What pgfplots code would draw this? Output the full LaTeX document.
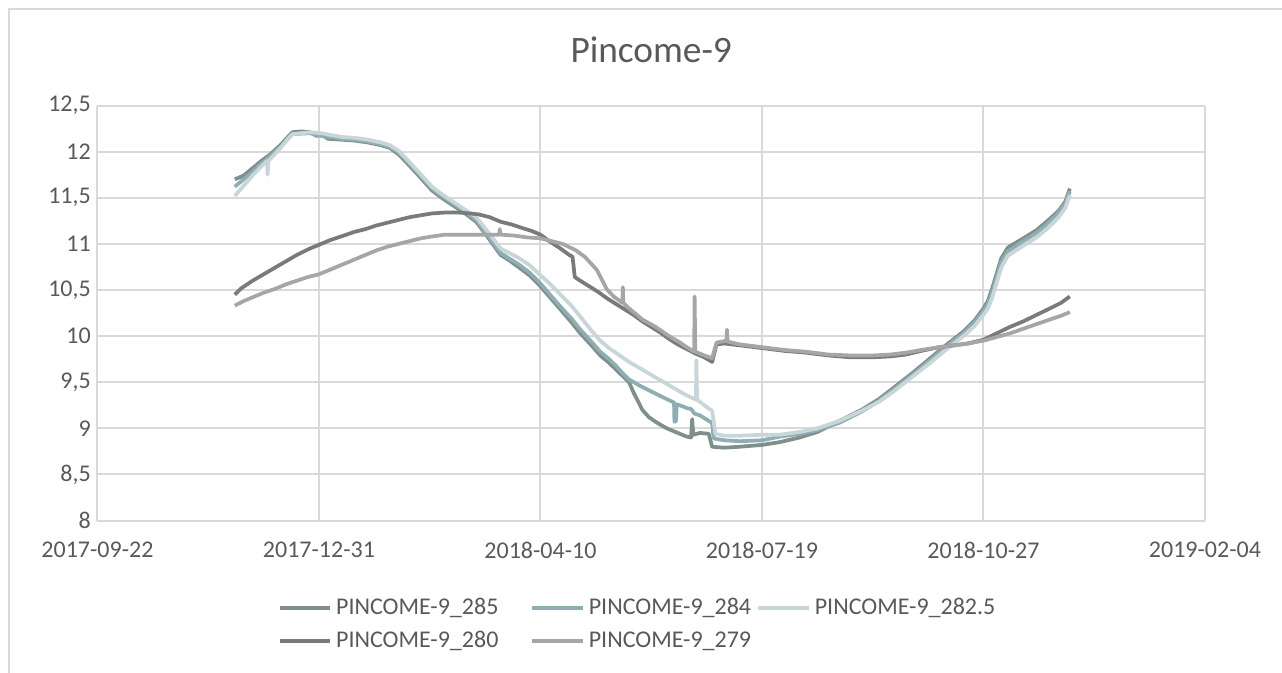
\documentclass[border=0pt]{standalone}
\usepackage{pgfplots}
\pgfplotsset{compat=1.18}
\usepackage{fontspec}
\setmainfont{Carlito}

\definecolor{txt}{RGB}{89,89,89}
\definecolor{gridc}{RGB}{217,217,217}
\definecolor{cA}{RGB}{127,143,139}   % 285
\definecolor{cB}{RGB}{143,174,180}   % 284
\definecolor{cC}{RGB}{200,213,217}   % 282.5
\definecolor{cD}{RGB}{122,122,124}   % 280
\definecolor{cE}{RGB}{166,166,166}   % 279

% x = days since 2017-09-22
\pgfplotstableread{
d v
62 11.70
66 11.74
70 11.82
74 11.90
78 11.97
83 12.08
86 12.16
88 12.21
92 12.22
96 12.21
99 12.17
101 12.19
104 12.14
110 12.13
116 12.12
122 12.10
128 12.07
132 12.04
136 11.97
140 11.87
145 11.74
151 11.58
156 11.49
161 11.41
166 11.33
171 11.24
176 11.08
182 10.88
186 10.82
190 10.75
195 10.66
200 10.54
205 10.40
209 10.29
214 10.15
218 10.03
223 9.90
227 9.79
231 9.71
234 9.64
237 9.57
240 9.50
242 9.39
246 9.20
249 9.12
252 9.07
257 9.00
262 8.95
266 8.91
268 8.90
268.5 9.10
269 8.93
272 8.95
276 8.94
277.5 8.80
283 8.79
290 8.80
300 8.82
308 8.85
317 8.90
325 8.96
335 9.08
345 9.20
353 9.32
360 9.45
368 9.60
376 9.76
383 9.90
391 10.05
396 10.17
400 10.30
402 10.38
404 10.52
406 10.68
408 10.84
411 10.96
418 11.06
424 11.15
429 11.25
434 11.36
437 11.46
439 11.60
}\tA

\pgfplotstableread{
d v
62 11.62
66 11.70
70 11.78
74 11.87
78 11.95
83 12.06
86 12.14
88 12.19
96 12.20
101 12.17
110 12.14
116 12.13
122 12.11
128 12.08
132 12.05
136 11.99
140 11.89
145 11.76
151 11.60
156 11.51
161 11.43
166 11.35
171 11.26
176 11.10
182 10.90
186 10.84
190 10.78
195 10.69
200 10.57
205 10.43
209 10.32
214 10.19
218 10.07
223 9.94
227 9.83
231 9.75
234 9.68
237 9.60
240 9.53
245 9.46
250 9.40
255 9.34
258.5 9.30
260.3 9.28
260.5 9.07
261.2 9.08
261.5 9.26
264 9.24
266 9.22
268 9.21
269.5 9.16
272 9.14
276 9.08
277.5 9.06
278.2 8.89
283 8.87
290 8.86
300 8.87
308 8.91
317 8.94
325 8.98
335 9.06
345 9.18
353 9.30
360 9.43
368 9.58
376 9.74
383 9.88
391 10.03
396 10.15
400 10.27
402 10.35
404 10.48
406 10.64
408 10.80
411 10.92
418 11.03
424 11.12
429 11.22
434 11.34
437 11.44
439 11.57
}\tB

\pgfplotstableread{
d v
62 11.52
66 11.63
70 11.74
74 11.84
76.5 11.90
76.8 11.75
77.2 11.90
80 11.97
83 12.05
86 12.14
88 12.19
96 12.21
101 12.20
110 12.16
116 12.15
122 12.13
128 12.10
132 12.07
136 12.01
140 11.91
145 11.78
151 11.62
156 11.53
161 11.45
166 11.37
171 11.29
176 11.14
182 10.95
186 10.90
190 10.85
195 10.77
200 10.66
205 10.55
209 10.45
214 10.33
218 10.21
223 10.06
227 9.95
231 9.87
234 9.82
237 9.77
240 9.72
245 9.65
250 9.58
255 9.51
260 9.44
265 9.37
270.2 9.31
270.4 9.74
270.7 9.31
274 9.25
277.5 9.19
279 8.94
283 8.92
290 8.92
300 8.93
308 8.93
317 8.96
325 9.00
335 9.08
345 9.19
353 9.29
360 9.41
368 9.56
376 9.71
383 9.85
391 10.00
396 10.11
400 10.23
402 10.30
404 10.42
406 10.58
408 10.74
411 10.87
418 10.98
424 11.07
429 11.17
434 11.29
437 11.39
439 11.53
}\tC

\pgfplotstableread{
d v
62 10.45
65 10.52
70 10.60
75 10.67
80 10.74
85 10.81
90 10.88
95 10.94
100 10.99
105 11.04
110 11.08
116 11.13
121 11.16
126 11.20
131 11.23
136 11.26
141 11.29
146 11.31
151 11.33
157 11.34
163 11.34
168 11.33
172 11.32
177 11.29
182 11.24
187 11.21
192 11.17
196 11.14
200 11.10
204 11.03
209 10.95
213 10.88
214.5 10.86
215.5 10.64
218 10.60
222 10.54
226 10.48
230 10.41
234 10.35
238 10.29
242 10.23
246 10.16
250 10.10
254 10.04
258 9.97
262 9.91
266 9.86
270 9.81
274 9.77
277.5 9.72
279.5 9.91
283 9.92
290 9.90
300 9.87
310 9.84
320 9.82
330 9.79
340 9.77
350 9.77
358 9.78
365 9.80
372 9.84
380 9.88
387 9.90
393 9.92
400 9.96
406 10.03
412 10.10
418 10.16
424 10.23
430 10.30
435 10.36
439 10.43
}\tD

\pgfplotstableread{
d v
62 10.33
66 10.38
70 10.42
75 10.47
80 10.51
85 10.56
90 10.60
95 10.64
100 10.67
105 10.72
110 10.77
116 10.83
121 10.88
126 10.93
131 10.97
136 11.00
141 11.03
146 11.06
151 11.08
157 11.10
163 11.10
170 11.10
176 11.10
181.3 11.10
181.6 11.16
182 11.10
188 11.09
194 11.07
200 11.06
205 11.03
210 11.00
216 10.93
220 10.86
225.4 10.72
228 10.60
229.9 10.51
233 10.43
237 10.36
237.2 10.53
237.4 10.36
240 10.30
246 10.18
252 10.10
258 10.00
263 9.93
266 9.88
269.4 9.83
269.6 10.43
269.9 9.83
274 9.79
277.5 9.76
279.5 9.93
284 9.95
284.2 10.07
284.5 9.94
290 9.91
300 9.88
310 9.85
320 9.83
330 9.80
340 9.79
350 9.79
358 9.80
365 9.82
372 9.85
380 9.88
387 9.90
393 9.92
400 9.95
406 9.99
412 10.03
418 10.08
424 10.13
430 10.18
435 10.22
439 10.26
}\tE

\begin{document}
\begin{tikzpicture}
\begin{axis}[
  scale only axis,
  width=830.6pt, height=311.25pt,
  xmin=0, xmax=500, ymin=8, ymax=12.5,
  xtick={0,100,200,300,400,500},
  xticklabels={2017-09-22,2017-12-31,2018-04-10,2018-07-19,2018-10-27,2019-02-04},
  ytick={8,8.5,9,9.5,10,10.5,11,11.5,12,12.5},
  /pgf/number format/.cd, use comma, 1000 sep={}, assume math mode=true,
  /pgfplots/.cd,
  major tick length=0pt,
  axis line style={draw=none},
  grid=major,
  major grid style={draw=gridc, line width=1.5pt},
  tick label style={font=\fontsize{18}{22}\selectfont, text=txt},
  yticklabel style={xshift=-1.5pt},
  xticklabel style={yshift=-12.5pt},
  title={Pincome-9},
  title style={font=\fontsize{28}{34}\selectfont, text=txt, at={(0.5,1)}, anchor=center, yshift=36pt},
  every axis plot/.append style={line width=2.8pt, line join=round},
  legend columns=3,
  legend image code/.code={\draw[#1] (0pt,0pt) -- (38pt,0pt);},
  legend style={draw=none, at={(0.5,0)}, anchor=north, xshift=-11pt, yshift=-57pt,
    inner sep=0pt, font=\fontsize{18}{22}\selectfont, text=txt, row sep=7.75pt,
    nodes={inner sep=0pt, text height=13pt, text depth=4pt},
    /tikz/every odd column/.style={column sep=3pt},
    /tikz/column 2/.style={column sep=24pt},
    /tikz/column 4/.style={column sep=4pt}},
]
\addplot[cA] table[x=d,y=v] {\tA};
\addlegendentry{PINCOME-9\_285}
\addplot[cB] table[x=d,y=v] {\tB};
\addlegendentry{PINCOME-9\_284}
\addplot[cC] table[x=d,y=v] {\tC};
\addlegendentry{PINCOME-9\_282.5}
\addplot[cD] table[x=d,y=v] {\tD};
\addlegendentry{PINCOME-9\_280}
\addplot[cE] table[x=d,y=v] {\tE};
\addlegendentry{PINCOME-9\_279}
\end{axis}
\draw[overlay, gridc, line width=1.2pt] ([shift={(-66.4pt,-130pt)}]current axis.south west) rectangle ([shift={(120pt,383.6pt)}]current axis.south east);
\useasboundingbox ([shift={(-73.1pt,-113.6pt)}]current axis.south west) rectangle ([shift={(888.4pt,390.4pt)}]current axis.south west);
\end{tikzpicture}
\end{document}
